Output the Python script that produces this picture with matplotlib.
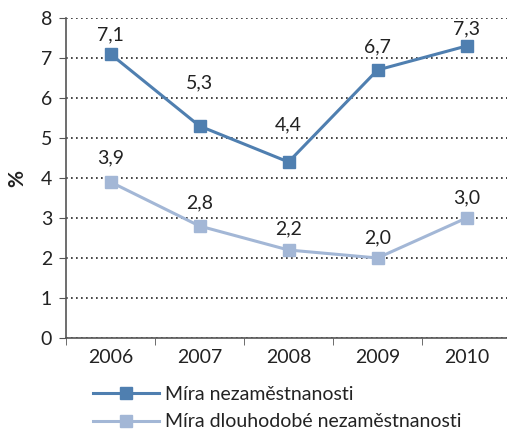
import matplotlib
matplotlib.use('Agg')
import matplotlib.pyplot as plt
from matplotlib.lines import Line2D

years = ['2006', '2007', '2008', '2009', '2010']
mira = [7.1, 5.3, 4.4, 6.7, 7.3]
mira_dlouh = [3.9, 2.8, 2.2, 2.0, 3.0]
labels = ['Míra nezaměstnanosti', 'Míra dlouhodobé nezaměstnanosti']

# label offsets above the points (pixels), placed by hand in the original
off_dark = [19, 43, 37, 23, 17]
off_light = [24, 23, 21, 20, 20]

dark = '#4f7fb0'
light = '#a3b7d6'
txt = '#222222'

plt.rcParams['font.family'] = ['Lato', 'DejaVu Sans']

fig = plt.figure(figsize=(5.07, 4.32), dpi=100)
ax = fig.add_axes([66 / 507, 94 / 432, 445 / 507, 320 / 432])

x = range(len(years))
for vals, col, offs in [(mira, dark, off_dark), (mira_dlouh, light, off_light)]:
    ax.plot(x, vals, color=col, lw=2.2, marker='s', ms=8, zorder=3)
    for i, v, o in zip(x, vals, offs):
        ax.annotate(f'{v:.1f}'.replace('.', ','), (i, v), xytext=(0, o),
                    textcoords='offset pixels', ha='center', va='center',
                    fontsize=14, color=txt)

ax.set_xlim(-0.5, 4.5)
ax.set_ylim(0, 8)
ax.set_yticks(range(9))
ax.set_xticks(x)
ax.set_xticklabels(years)
ax.set_xticks([i - 0.5 for i in range(6)], minor=True)
ax.tick_params(axis='x', which='major', length=0, labelsize=14, colors=txt, pad=8)
ax.tick_params(axis='x', which='minor', length=5, direction='out', color='#555555')
ax.tick_params(axis='y', length=5, labelsize=14, colors=txt, color='#555555', pad=5)
ax.yaxis.grid(True, ls=(0, (1, 2)), color='#222222', lw=1.2)
ax.set_axisbelow(True)
for s in ['top', 'right']:
    ax.spines[s].set_visible(False)
for s in ['left', 'bottom']:
    ax.spines[s].set_color('#555555')
    ax.spines[s].set_linewidth(1.2)
ax.set_ylabel('%', fontsize=15, color=txt, labelpad=10, fontweight='bold')

handles = [Line2D([], [], color=dark, lw=2.2, marker='s', ms=8),
           Line2D([], [], color=light, lw=2.2, marker='s', ms=8)]
fig.legend(handles, labels, loc='upper left', bbox_to_anchor=(85 / 507, 1 - 378 / 432),
           frameon=False, fontsize=14, handlelength=3.4, labelspacing=0.55,
           handletextpad=0.3, labelcolor=txt, borderaxespad=0)

fig.savefig('out.png', dpi=100)
